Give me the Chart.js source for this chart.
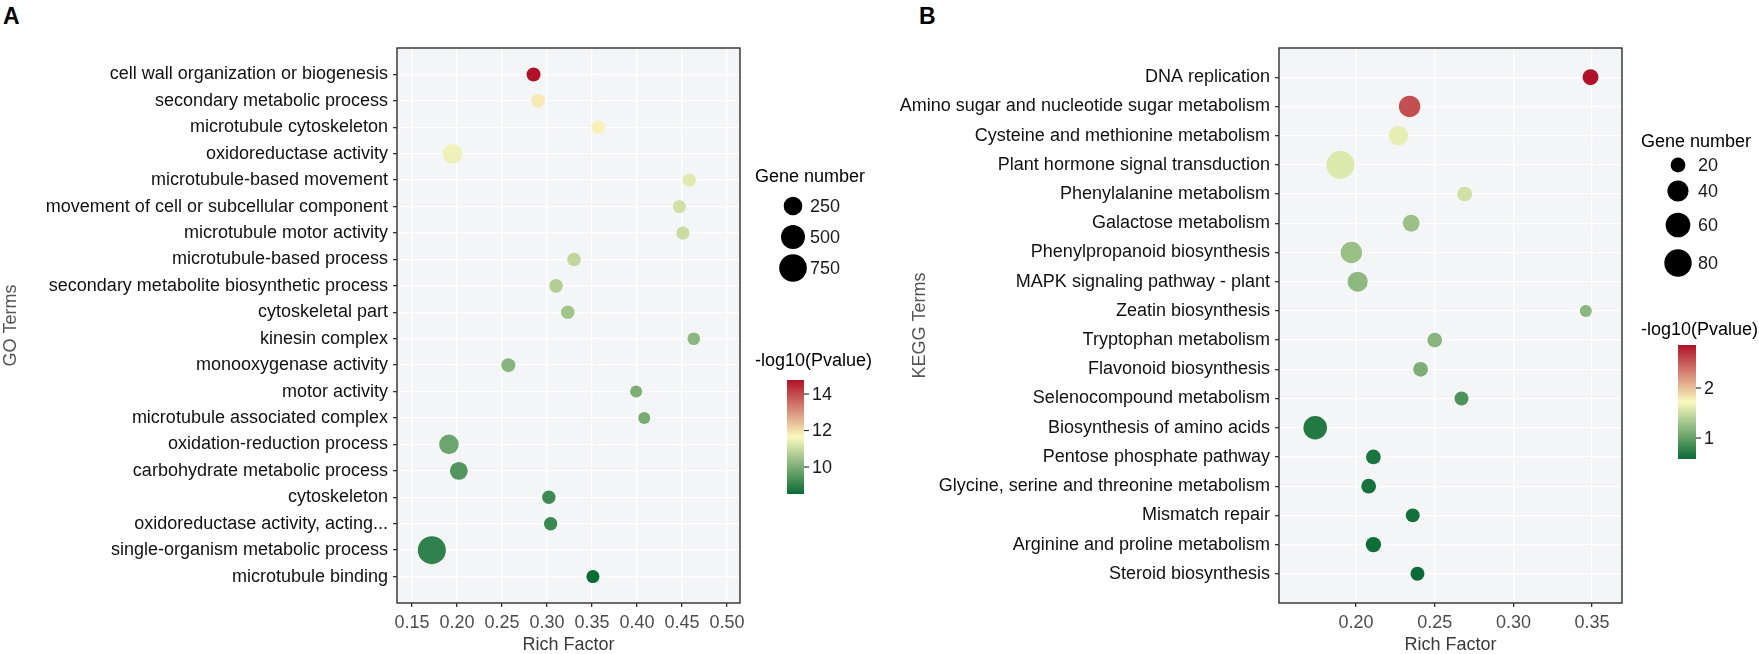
<!DOCTYPE html>
<html>
<head>
<meta charset="utf-8">
<script src="https://cdn.jsdelivr.net/npm/chart.js@4.4.0/dist/chart.umd.min.js"></script>
<style>
  html, body { margin: 0; padding: 0; background: #fff; }
  body { position: relative; width: 1759px; height: 654px; overflow: hidden; }
  .tag { position: absolute; top: 5px; font: bold 23px 'Liberation Sans', Arial, sans-serif; line-height: 23px; color: #000; }
  .box { position: absolute; top: 0; height: 654px; }
</style>
</head>
<body>
<div class="tag" style="left:3px">A</div>
<div class="tag" style="left:919px">B</div>
<div class="box" style="left:0;width:880px"><canvas id="chartA"></canvas></div>
<div class="box" style="left:880px;width:879px"><canvas id="chartB"></canvas></div>

<script>
// ---- panel A : GO terms ----
const goTerms = [
  'cell wall organization or biogenesis', 'secondary metabolic process', 'microtubule cytoskeleton',
  'oxidoreductase activity', 'microtubule-based movement', 'movement of cell or subcellular component',
  'microtubule motor activity', 'microtubule-based process', 'secondary metabolite biosynthetic process',
  'cytoskeletal part', 'kinesin complex', 'monooxygenase activity', 'motor activity',
  'microtubule associated complex', 'oxidation-reduction process', 'carbohydrate metabolic process',
  'cytoskeleton', 'oxidoreductase activity, acting...', 'single-organism metabolic process', 'microtubule binding'
];
const goRichFactor = [0.285, 0.290, 0.357, 0.195, 0.458, 0.447, 0.451, 0.330, 0.310, 0.323,
                      0.463, 0.257, 0.399, 0.408, 0.191, 0.202, 0.302, 0.304, 0.172, 0.351];
const goGeneNumber = [150, 148, 145, 285, 143, 143, 143, 146, 146, 146,
                      141, 150, 140, 140, 285, 225, 145, 145, 780, 143];
const goLogP = [14.77, 11.85, 11.75, 11.5, 11.3, 11.1, 11.0, 10.9, 10.7, 10.5,
                10.2, 10.15, 10.0, 9.95, 9.8, 9.45, 9.2, 9.15, 9.0, 8.52];
const goXTicks = [0.15, 0.20, 0.25, 0.30, 0.35, 0.40, 0.45, 0.50];
const goSizeBreaks = [250, 500, 750];
const goColorTicks = [10, 12, 14];

// ---- panel B : KEGG terms ----
const keggTerms = [
  'DNA replication', 'Amino sugar and nucleotide sugar metabolism', 'Cysteine and methionine metabolism',
  'Plant hormone signal transduction', 'Phenylalanine metabolism', 'Galactose metabolism',
  'Phenylpropanoid biosynthesis', 'MAPK signaling pathway - plant', 'Zeatin biosynthesis',
  'Tryptophan metabolism', 'Flavonoid biosynthesis', 'Selenocompound metabolism',
  'Biosynthesis of amino acids', 'Pentose phosphate pathway', 'Glycine, serine and threonine metabolism',
  'Mismatch repair', 'Arginine and proline metabolism', 'Steroid biosynthesis'
];
const keggRichFactor = [0.349, 0.234, 0.227, 0.190, 0.269, 0.235, 0.197, 0.201, 0.346,
                        0.250, 0.241, 0.267, 0.174, 0.211, 0.208, 0.236, 0.211, 0.239];
const keggGeneNumber = [22, 41, 32, 85, 20, 24, 41, 35, 18, 20, 20, 19, 53, 20, 20, 19, 21, 19];
const keggLogP = [2.86, 2.56, 1.63, 1.58, 1.52, 1.27, 1.26, 1.2, 1.19,
                  1.18, 1.12, 0.9, 0.69, 0.66, 0.64, 0.62, 0.6, 0.58];
const keggXTicks = [0.20, 0.25, 0.30, 0.35];
const keggSizeBreaks = [20, 40, 60, 80];
const keggColorTicks = [1, 2];

const FONT = "'Liberation Sans', Arial, Helvetica, sans-serif";
Chart.defaults.font.family = FONT;
Chart.defaults.devicePixelRatio = 1;

const PANEL_BG = '#F4F5F7';
const R_MIN = 6, R_MAX = 14;
const LOW = [11, 107, 54], MID = [250, 249, 190], HIGH = [176, 18, 42];

// size scale like ggplot's area palette
function sizeScale(values) {
  const lo = Math.min(...values), hi = Math.max(...values);
  return v => R_MIN + (R_MAX - R_MIN) * Math.sqrt(Math.max(0, (v - lo) / (hi - lo)));
}

// green - pale yellow - red gradient over the data range
function colorScale(values) {
  const lo = Math.min(...values), hi = Math.max(...values);
  const f = v => {
    const t = Math.min(1, Math.max(0, (v - lo) / (hi - lo)));
    const [a, b, u] = t < 0.5 ? [LOW, MID, t / 0.5] : [MID, HIGH, (t - 0.5) / 0.5];
    const c = a.map((x, i) => Math.round(x + (b[i] - x) * u));
    return 'rgb(' + c.join(',') + ')';
  };
  f.lo = lo; f.hi = hi;
  return f;
}

function legendPlugin(L, radius, color, sizeBreaks, colorTicks) {
  return {
    id: 'frameLegend',
    beforeDraw(chart) {
      const a = chart.chartArea, ctx = chart.ctx;
      ctx.save();
      ctx.fillStyle = PANEL_BG;
      ctx.fillRect(a.left, a.top, a.right - a.left, a.bottom - a.top);
      ctx.restore();
    },
    afterDraw(chart) {
      const a = chart.chartArea, ctx = chart.ctx;
      ctx.save();
      ctx.strokeStyle = '#2E2E2E';
      ctx.lineWidth = 1.4;
      ctx.strokeRect(a.left, a.top, a.right - a.left, a.bottom - a.top);

      // gene number legend
      ctx.font = '18px ' + FONT;
      ctx.textBaseline = 'middle';
      ctx.textAlign = 'left';
      ctx.fillStyle = '#000';
      ctx.fillText('Gene number', L.titleX, L.sizeTitleY);
      sizeBreaks.forEach((v, i) => {
        ctx.fillStyle = '#000';
        ctx.beginPath();
        ctx.arc(L.keyX, L.sizeY[i], radius(v), 0, Math.PI * 2);
        ctx.fill();
        ctx.fillStyle = '#1A1A1A';
        ctx.fillText(String(v), L.labelX, L.sizeY[i] + 1);
      });

      // colour bar
      ctx.fillStyle = '#000';
      ctx.fillText('-log10(Pvalue)', L.titleX, L.colorTitleY);
      const g = ctx.createLinearGradient(0, L.barTop + L.barH, 0, L.barTop);
      for (let k = 0; k <= 30; k++) g.addColorStop(k / 30, color(color.lo + (color.hi - color.lo) * k / 30));
      ctx.fillStyle = g;
      ctx.fillRect(L.barX, L.barTop, L.barW, L.barH);
      ctx.strokeStyle = '#333';
      ctx.lineWidth = 1.2;
      colorTicks.forEach(v => {
        const y = L.barTop + L.barH * (1 - (v - color.lo) / (color.hi - color.lo));
        ctx.beginPath();
        ctx.moveTo(L.barX + L.barW, y);
        ctx.lineTo(L.barX + L.barW + 5, y);
        ctx.stroke();
        ctx.fillStyle = '#1A1A1A';
        ctx.fillText(String(v), L.barX + L.barW + 8, y + 1);
      });
      ctx.restore();
    }
  };
}

function makeChart(id, s) {
  const radius = sizeScale(s.genes);
  const color = colorScale(s.logP);
  const n = s.terms.length;
  return new Chart(document.getElementById(id), {
    type: 'bubble',
    data: {
      datasets: [{
        data: s.terms.map((t, i) => ({ x: s.rich[i], y: i, r: radius(s.genes[i]) })),
        backgroundColor: s.logP.map(v => color(v)),
        borderWidth: 0
      }]
    },
    options: {
      responsive: true,
      maintainAspectRatio: false,
      animation: false,
      events: [],
      layout: { padding: { left: 0, top: 48, right: s.padRight, bottom: 0 } },
      plugins: { legend: { display: false }, tooltip: { enabled: false } },
      scales: {
        x: {
          type: 'linear', min: s.xMin, max: s.xMax, bounds: 'data',
          afterBuildTicks: sc => { sc.ticks = s.xTicks.map(v => ({ value: v })); },
          afterFit: sc => { sc.height = 51; },
          ticks: { callback: v => v.toFixed(2), color: '#4D4D4D', font: { size: 18 },
                   padding: 5, maxRotation: 0, autoSkip: false },
          grid: { color: '#FFFFFF', lineWidth: 1.3, tickColor: '#333', tickLength: 4 },
          border: { display: false },
          title: { display: true, text: 'Rich Factor', color: '#3A3A3A', font: { size: 18, lineHeight: 1 },
                   padding: { top: 0, bottom: 0 } }
        },
        y: {
          // one category step of padding above the first and below the last term
          type: 'linear', reverse: true, min: -1, max: n,
          afterBuildTicks: sc => { sc.ticks = s.terms.map((t, i) => ({ value: i })); },
          afterFit: sc => { sc.width = s.yWidth; },
          ticks: { callback: v => s.terms[v], color: '#111', font: { size: 18 },
                   padding: 5, autoSkip: false },
          grid: { color: '#FFFFFF', lineWidth: 1.3, tickColor: '#333', tickLength: 4 },
          border: { display: false },
          title: { display: true, text: s.yTitle, color: '#555', font: { size: 18 },
                   padding: { top: s.yTitlePad, bottom: 0 } }
        }
      }
    },
    plugins: [legendPlugin(s.legend, radius, color, s.sizeBreaks, s.colorTicks)]
  });
}

makeChart('chartA', {
  terms: goTerms, rich: goRichFactor, genes: goGeneNumber, logP: goLogP,
  xMin: 0.1333, xMax: 0.5144, xTicks: goXTicks, sizeBreaks: goSizeBreaks, colorTicks: goColorTicks,
  yTitle: 'GO Terms', yTitlePad: 0, yWidth: 397, padRight: 140,
  legend: { titleX: 755, sizeTitleY: 177, keyX: 793, labelX: 810, sizeY: [206, 237, 268],
            colorTitleY: 361, barX: 787, barW: 17, barTop: 380, barH: 114 }
});

makeChart('chartB', {
  terms: keggTerms, rich: keggRichFactor, genes: keggGeneNumber, logP: keggLogP,
  xMin: 0.151, xMax: 0.369, xTicks: keggXTicks, sizeBreaks: keggSizeBreaks, colorTicks: keggColorTicks,
  yTitle: 'KEGG Terms', yTitlePad: 29, yWidth: 399, padRight: 137,
  legend: { titleX: 761, sizeTitleY: 142, keyX: 798, labelX: 818, sizeY: [165, 191, 225, 263],
            colorTitleY: 330, barX: 798, barW: 18, barTop: 345, barH: 114 }
});
</script>
</body>
</html>
